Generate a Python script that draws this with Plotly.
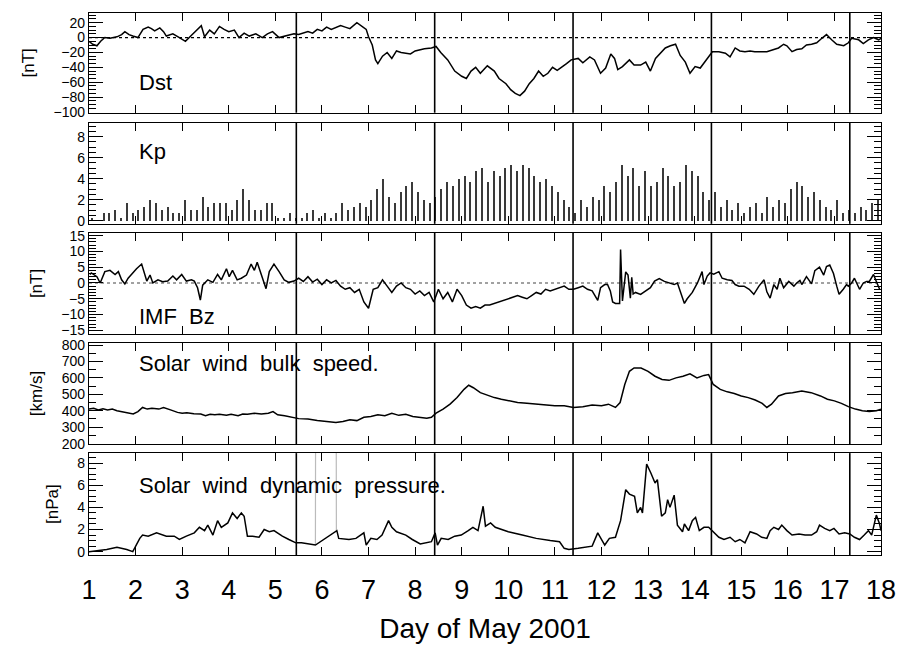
import plotly.graph_objects as go
from plotly.subplots import make_subplots

# ---------------- data ----------------
dst_day = [1.00,1.08,1.17,1.25,1.34,1.45,1.6,1.7,1.77,1.86,1.94,2.05,2.16,2.27,2.34,2.41,2.52,2.6,2.66,2.8,2.94,
           3.07,3.2,3.3,3.41,3.48,3.59,3.69,3.8,3.9,4.0,4.12,4.22,4.33,4.44,4.58,4.72,4.83,4.94,5.08,5.23,5.4,
           5.5,5.6,5.7,5.8,5.9,6.0,6.1,6.2,6.3,6.4,6.5,6.6,6.75,6.85,6.95,7.0,7.08,7.15,7.2,7.3,7.4,7.5,7.6,
           7.7,7.9,8.0,8.2,8.35,
           8.45,8.55,8.7,8.85,9.0,9.1,9.2,9.3,9.4,9.55,9.7,9.8,9.95,10.05,10.15,10.25,10.35,10.45,10.55,10.65,
           10.75,10.85,10.95,11.05,11.15,11.25,11.35,11.5,11.6,11.75,11.85,11.92,11.98,12.09,12.2,12.28,12.35,
           12.45,12.6,12.7,12.84,12.95,13.05,13.16,13.27,13.37,13.48,13.59,13.69,13.8,13.9,14.01,14.12,14.27,
           14.38,14.52,14.66,14.76,14.87,14.97,15.08,15.19,15.29,15.4,15.55,15.7,15.8,15.91,15.98,16.09,16.19,
           16.3,16.4,16.51,16.62,16.73,16.83,16.94,17.05,17.2,17.3,17.37,17.52,17.62,17.73,17.84,17.95,18.0]
dst_val = [-5,-9,-11,-5,0,-1,1,4,8,4,2,0,11,14,12,9,13,8,2,5,0,
           -5,3,9,16,1,10,5,15,11,8,10,0,6,2,5,0,5,8,0,2,5,
           4,6,8,6,11,9,14,11,13,16,14,12,20,15,11,1,-10,-30,-35,-25,-20,-28,-18,
           -20,-22,-18,-15,-14,
           -12,-20,-30,-45,-52,-55,-45,-40,-48,-38,-45,-55,-62,-70,-75,-78,-72,-62,-55,-45,
           -52,-48,-40,-44,-40,-35,-30,-28,-34,-26,-30,-39,-48,-41,-22,-28,-43,
           -39,-30,-37,-37,-33,-45,-28,-20,-14,-11,-9,-24,-33,-48,-39,-41,-28,
           -19,-19,-21,-26,-14,-18,-19,-18,-19,-19,-19,-16,-14,-9,-11,-19,-16,
           -15,-10,-9,-7,-1,4,-3,-9,-11,-7,-1,-3,-8,-3,0,-3,-1]

kp_day = [1.0625 + 0.125 * k for k in range(136)]
kp_val = [0.3,0,0.7,0.7,1.0,0.3,1.7,0.7,1.0,1.3,2.0,1.7,1.0,1.3,0.7,0.7,2.0,1.0,1.0,2.3,1.3,1.7,1.7,1.7,
          1.0,2.0,3.0,2.0,1.0,1.0,1.7,1.7,0.3,0.3,0.7,0.3,
          0.3,0.7,1.0,0.3,0.7,0.3,0.7,1.7,1.0,1.3,1.7,1.3,2.0,3.0,4.0,2.3,1.7,2.7,3.3,3.7,2.7,2.0,1.7,
          2.3,3.0,3.7,3.3,4.0,4.3,3.7,4.7,5.0,3.7,4.7,4.3,5.0,5.3,4.7,5.3,5.0,4.3,3.7,4.0,3.3,2.7,2.0,1.3,
          0.7,2.0,1.3,2.3,2.0,3.3,2.7,3.7,5.3,4.3,5.0,3.3,4.7,3.3,3.7,5.0,4.3,3.3,3.7,5.3,4.7,4.3,2.7,2.0,
          2.7,1.3,2.0,1.0,1.7,0.7,1.3,1.7,0.7,2.3,1.3,2.0,1.7,3.0,3.7,3.3,2.3,2.7,2.0,1.3,1.0,2.0,0.7,1.0,
          0.7,1.3,1.0,1.7,2.0]

bz_day = [1.02,1.05,1.17,1.24,1.34,1.45,1.56,1.63,1.7,1.77,1.84,1.92,2.02,2.13,2.24,2.31,2.37,2.48,2.58,2.69,
          2.8,2.88,2.99,3.09,3.2,3.26,3.33,3.39,3.44,3.55,3.66,3.76,3.84,3.95,4.01,4.08,4.18,4.27,4.38,4.48,
          4.55,4.61,4.72,4.8,4.87,4.97,5.08,5.19,5.29,5.4,5.5,5.6,5.7,5.8,5.9,6.0,6.1,6.2,6.3,6.4,6.5,6.6,
          6.7,6.8,6.9,7.0,7.05,7.1,7.2,7.3,7.4,7.5,7.6,7.7,7.8,7.9,8.0,8.1,8.2,8.3,8.4,8.5,8.6,8.7,8.8,8.9,
          9.0,9.1,9.2,9.3,9.4,9.5,9.6,9.7,9.8,9.9,10.0,10.1,10.2,10.3,10.4,10.5,10.6,10.7,10.8,10.9,11.0,
          11.1,11.2,11.3,11.4,11.5,11.6,11.7,11.8,11.92,11.98,12.07,12.13,12.19,12.24,12.3,12.39,12.41,12.45,
          12.52,12.57,12.62,12.65,12.68,12.73,12.84,12.95,13.05,13.14,13.24,13.35,13.45,13.56,13.63,13.69,
          13.78,13.84,13.95,14.06,14.16,14.2,14.27,14.33,14.41,14.52,14.59,14.7,14.8,14.87,14.95,15.06,15.17,
          15.27,15.38,15.49,15.55,15.62,15.7,15.77,15.83,15.91,16.02,16.13,16.19,16.26,16.3,16.4,16.51,16.58,
          16.68,16.77,16.83,16.9,16.98,17.05,17.1,17.19,17.26,17.3,17.37,17.43,17.54,17.62,17.69,17.75,17.84,
          17.9,17.97]
bz_val = [2.7,3.2,2.0,0.0,3.6,4.0,2.7,3.6,1.0,-0.3,1.5,3.0,4.5,6.0,0.6,2.5,0.0,1.0,0.4,0.6,
          2.2,1.0,2.7,0.6,1.0,0.6,-1.5,-5.4,-0.7,1.0,0.2,2.7,1.0,4.5,2.0,4.0,1.0,1.5,2.5,6.0,
          4.0,6.6,2.0,-1.8,3.6,6.0,3.6,1.0,0.2,0.6,1.5,0.5,2.0,0.3,1.2,-0.5,1.0,0.0,0.8,-1.0,-2.0,-1.5,
          -3.0,-2.0,-6.0,-8.0,-5.0,-2.0,-1.5,1.0,-1.0,-3.0,-1.0,0.0,-1.5,-2.0,-3.5,-2.5,-4.0,-3.0,-6.0,-2.0,-5.0,-3.0,-6.0,-2.0,
          -4.0,-7.0,-8.0,-7.5,-8.0,-7.0,-7.0,-6.5,-6.0,-5.5,-5.0,-4.5,-4.0,-4.5,-5.0,-4.0,-3.0,-3.5,-2.0,-2.5,-2.0,
          -1.5,-1.0,-2.0,-2.0,-1.5,-1.0,-2.0,-2.5,-5.5,-1.5,-0.5,-0.5,-2.5,-6.0,-6.5,-6.5,10.6,-5.7,
          3.5,2.5,-4.8,1.8,-3.5,-3.0,-3.6,-2.5,-1.5,0.6,1.4,0.5,0.0,-0.5,0.0,-2.5,
          -6.5,-5.0,-3.0,0.0,3.6,-0.5,2.2,3.2,2.8,3.6,1.5,1.0,0.8,-0.5,-1.0,-1.0,-2.0,
          -3.6,-1.0,1.0,-2.8,-4.8,-0.5,-2.0,1.5,-1.5,0.5,-1.0,0.0,0.8,-0.5,2.0,-0.3,3.9,5.0,2.5,
          5.2,5.7,3.0,-1.0,-3.6,-2.0,-0.5,-1.0,0.0,1.5,-2.0,0.0,0.5,0.5,2.7,0.5,-2.0,
          1.0,-1.0]

v_day = [1.0,1.1,1.2,1.3,1.4,1.5,1.6,1.7,1.85,1.95,2.05,2.15,2.25,2.35,2.5,2.6,2.75,2.9,3.0,3.1,3.25,3.4,
         3.5,3.6,3.7,3.8,3.95,4.05,4.2,4.3,4.4,4.55,4.7,4.85,4.95,5.05,5.2,5.35,5.5,5.7,5.9,6.1,6.3,6.45,
         6.6,6.75,6.9,7.05,7.2,7.35,7.5,7.65,7.8,7.95,8.1,8.25,8.35,8.45,8.6,8.75,8.9,9.05,9.15,9.25,9.4,
         9.55,9.7,9.85,10.0,10.2,10.4,10.6,10.8,11.0,11.2,11.4,11.6,11.8,12.0,12.15,12.3,12.4,12.5,12.6,
         12.7,12.85,13.0,13.15,13.3,13.45,13.6,13.75,13.9,14.05,14.2,14.3,14.4,14.55,14.7,14.85,15.0,15.15,
         15.3,15.45,15.55,15.65,15.8,15.95,16.1,16.3,16.5,16.7,16.85,17.0,17.15,17.3,17.45,17.6,17.75,17.9,18.0]
v_val = [410,415,405,412,405,410,400,395,385,380,395,420,410,415,410,420,405,390,385,388,382,380,
         370,378,375,378,372,378,370,380,378,385,380,385,395,375,370,360,352,350,340,335,328,335,
         345,340,360,365,375,370,385,372,378,365,360,355,360,385,410,440,480,530,555,540,510,
         495,480,470,460,450,445,440,435,430,430,420,425,435,430,440,420,450,560,640,
         660,660,640,610,590,585,600,610,625,600,615,620,560,530,515,505,490,480,
         465,445,420,440,490,505,510,520,510,490,470,460,445,425,410,400,395,400,410]

p_day = [1.0,1.38,1.6,1.81,1.94,2.09,2.15,2.27,2.45,2.66,2.83,2.94,3.09,3.26,3.37,3.48,3.55,3.66,3.76,3.84,
         3.98,4.08,4.18,4.27,4.33,4.4,4.51,4.65,4.76,4.87,4.97,5.15,5.29,5.44,5.56,5.7,5.86,
         6.32,6.36,6.58,6.73,6.9,6.95,7.05,7.18,7.29,7.43,7.5,7.6,7.8,7.94,8.11,8.24,8.35,8.43,8.48,8.56,
         8.71,8.85,8.99,9.14,9.24,9.35,9.46,9.51,9.62,9.72,10.0,10.3,10.6,10.9,11.1,11.2,11.3,11.5,11.8,
         11.92,12.07,12.17,12.3,12.41,12.52,12.6,12.71,12.77,12.84,12.88,12.97,13.06,13.15,13.2,13.29,
         13.37,13.42,13.47,13.56,13.63,13.74,13.78,13.87,13.95,14.02,14.1,14.2,14.3,14.41,14.52,14.63,
         14.76,14.87,14.97,15.08,15.19,15.33,15.44,15.55,15.62,15.7,15.8,15.87,15.98,16.09,16.24,16.37,
         16.51,16.62,16.68,16.79,16.9,16.99,17.1,17.22,17.33,17.43,17.54,17.64,17.73,17.8,17.9,17.97,18.0]
p_val = [0.0,0.2,0.4,0.2,0.0,1.2,1.5,1.4,1.7,1.4,1.4,1.1,1.4,1.7,2.2,1.9,2.4,1.5,2.8,2.2,
         2.6,3.5,3.0,3.5,3.2,1.4,1.4,1.3,2.0,1.8,1.9,1.4,1.1,0.8,0.8,0.7,0.6,
         1.9,1.2,1.1,1.2,1.7,0.6,1.2,1.1,1.5,2.8,2.2,1.8,1.5,1.1,0.7,0.8,0.9,1.7,0.6,1.2,
         1.1,1.4,1.5,1.9,2.2,1.9,4.1,2.3,2.6,2.2,1.8,1.5,1.2,1.0,0.9,0.3,0.2,0.3,0.5,
         1.7,0.6,1.2,1.3,2.8,5.6,5.2,5.0,3.5,4.0,3.5,7.9,7.1,6.2,6.5,3.2,
         3.5,4.7,4.0,5.1,2.4,1.8,2.5,1.9,2.8,3.1,1.9,2.2,2.2,1.7,1.3,1.1,
         1.3,0.9,1.1,0.8,1.8,1.6,1.3,1.2,1.9,2.2,2.0,2.4,1.9,1.5,1.6,1.5,
         1.5,1.8,2.4,2.1,1.9,2.1,1.6,1.7,1.6,1.3,1.1,1.5,1.9,1.5,3.3,2.5,1.9]

# gap markers in pressure (thin grey fill lines)
p_gap_day = [5.86, 5.87, 6.30, 6.31]
p_gap_val = [0.6, 30, 30, 1.9]

orbit_marks = [5.45, 8.42, 11.39, 14.36, 17.33]
day_ticks = list(range(1, 19))

# ---------------- figure ----------------
FONT = "Liberation Sans, DejaVu Sans"
fig = make_subplots(rows=5, cols=1, shared_xaxes=True)

line = dict(color="black", width=1.5)
fig.add_trace(go.Scatter(x=dst_day, y=dst_val, mode="lines", line=line), row=1, col=1)
fig.add_trace(go.Bar(x=kp_day, y=kp_val, width=0.022, marker=dict(color="#3a3a3a", line=dict(width=0))),
              row=2, col=1)
fig.add_trace(go.Scatter(x=bz_day, y=bz_val, mode="lines", line=line), row=3, col=1)
fig.add_trace(go.Scatter(x=v_day, y=v_val, mode="lines", line=line), row=4, col=1)
fig.add_trace(go.Scatter(x=p_gap_day, y=p_gap_val, mode="lines", line=dict(color="#bbbbbb", width=1.2)),
              row=5, col=1)
fig.add_trace(go.Scatter(x=p_day, y=p_val, mode="lines", line=line), row=5, col=1)

domains = [[0.816, 1.0], [0.611, 0.797], [0.407, 0.595], [0.204, 0.392], [0.0, 0.188]]
yspecs = [
    dict(range=[-101, 33], dtick=20, tick0=0, minor=5, title="[nT]"),
    dict(range=[-0.3, 9.3], dtick=2, tick0=0, minor=0.5, title=""),
    dict(range=[-16.3, 16], dtick=5, tick0=0, minor=1, title="[nT]"),
    dict(range=[195, 815], dtick=100, tick0=0, minor=50, title="[km/s]"),
    dict(range=[-0.3, 8.9], dtick=2, tick0=0, minor=0.5, title="[nPa]"),
]
for i, (dom, ys) in enumerate(zip(domains, yspecs), start=1):
    fig.update_yaxes(
        row=i, col=1, domain=dom, range=ys["range"], dtick=ys["dtick"], tick0=ys["tick0"],
        showgrid=False, zeroline=False, showline=True, linecolor="black", linewidth=1.3, mirror="allticks",
        ticks="inside", ticklen=14, tickcolor="black", tickwidth=1,
        minor=dict(dtick=ys["minor"], ticks="inside", ticklen=7, tickcolor="black", showgrid=False),
        tickfont=dict(family=FONT, size=14, color="black"),
        title=dict(text=ys["title"], font=dict(family=FONT, size=17, color="black"), standoff=14),
    )
    fig.update_xaxes(
        row=i, col=1, range=[1, 18], tickmode="array", tickvals=day_ticks,
        showgrid=False, zeroline=False, showline=True, linecolor="black", linewidth=1.3, mirror="allticks",
        ticks="inside", ticklen=8, tickcolor="black", tickwidth=1,
        showticklabels=(i == 5),
        tickfont=dict(family=FONT, size=27, color="black"),
    )
fig.update_xaxes(row=5, col=1, ticklabelstandoff=10,
                 title=dict(text="Day of May 2001", font=dict(family=FONT, size=28, color="black"), standoff=14))

# zero lines
for yref, col, dash in [("y", "black", "dot"), ("y3", "#444444", "dot")]:
    fig.add_shape(type="line", xref="x domain", yref=yref, x0=0, x1=1, y0=0, y1=0,
                  line=dict(color=col, width=1.2, dash=dash), layer="below")
# orbit marker lines
for n in ["", "2", "3", "4", "5"]:
    for d in orbit_marks:
        fig.add_shape(type="line", xref="x", yref=f"y{n} domain", x0=d, x1=d, y0=0, y1=1,
                      line=dict(color="black", width=1.6))

labels = [("y", -60, "Dst"), ("y2", 6.6, "Kp"), ("y3", -10.5, "IMF  Bz"),
          ("y4", 690, "Solar  wind  bulk  speed."), ("y5", 6.0, "Solar  wind  dynamic  pressure.")]
for yref, yv, txt in labels:
    fig.add_annotation(x=2.02, y=yv, xref="x", yref=yref, text=txt, showarrow=False, xanchor="left",
                       yanchor="middle", font=dict(family=FONT, size=22, color="black"))

fig.update_layout(
    width=903, height=650, margin=dict(l=89, r=18, t=7, b=95),
    plot_bgcolor="white", paper_bgcolor="white", showlegend=False, bargap=0,
)
fig.write_html("out.html")
